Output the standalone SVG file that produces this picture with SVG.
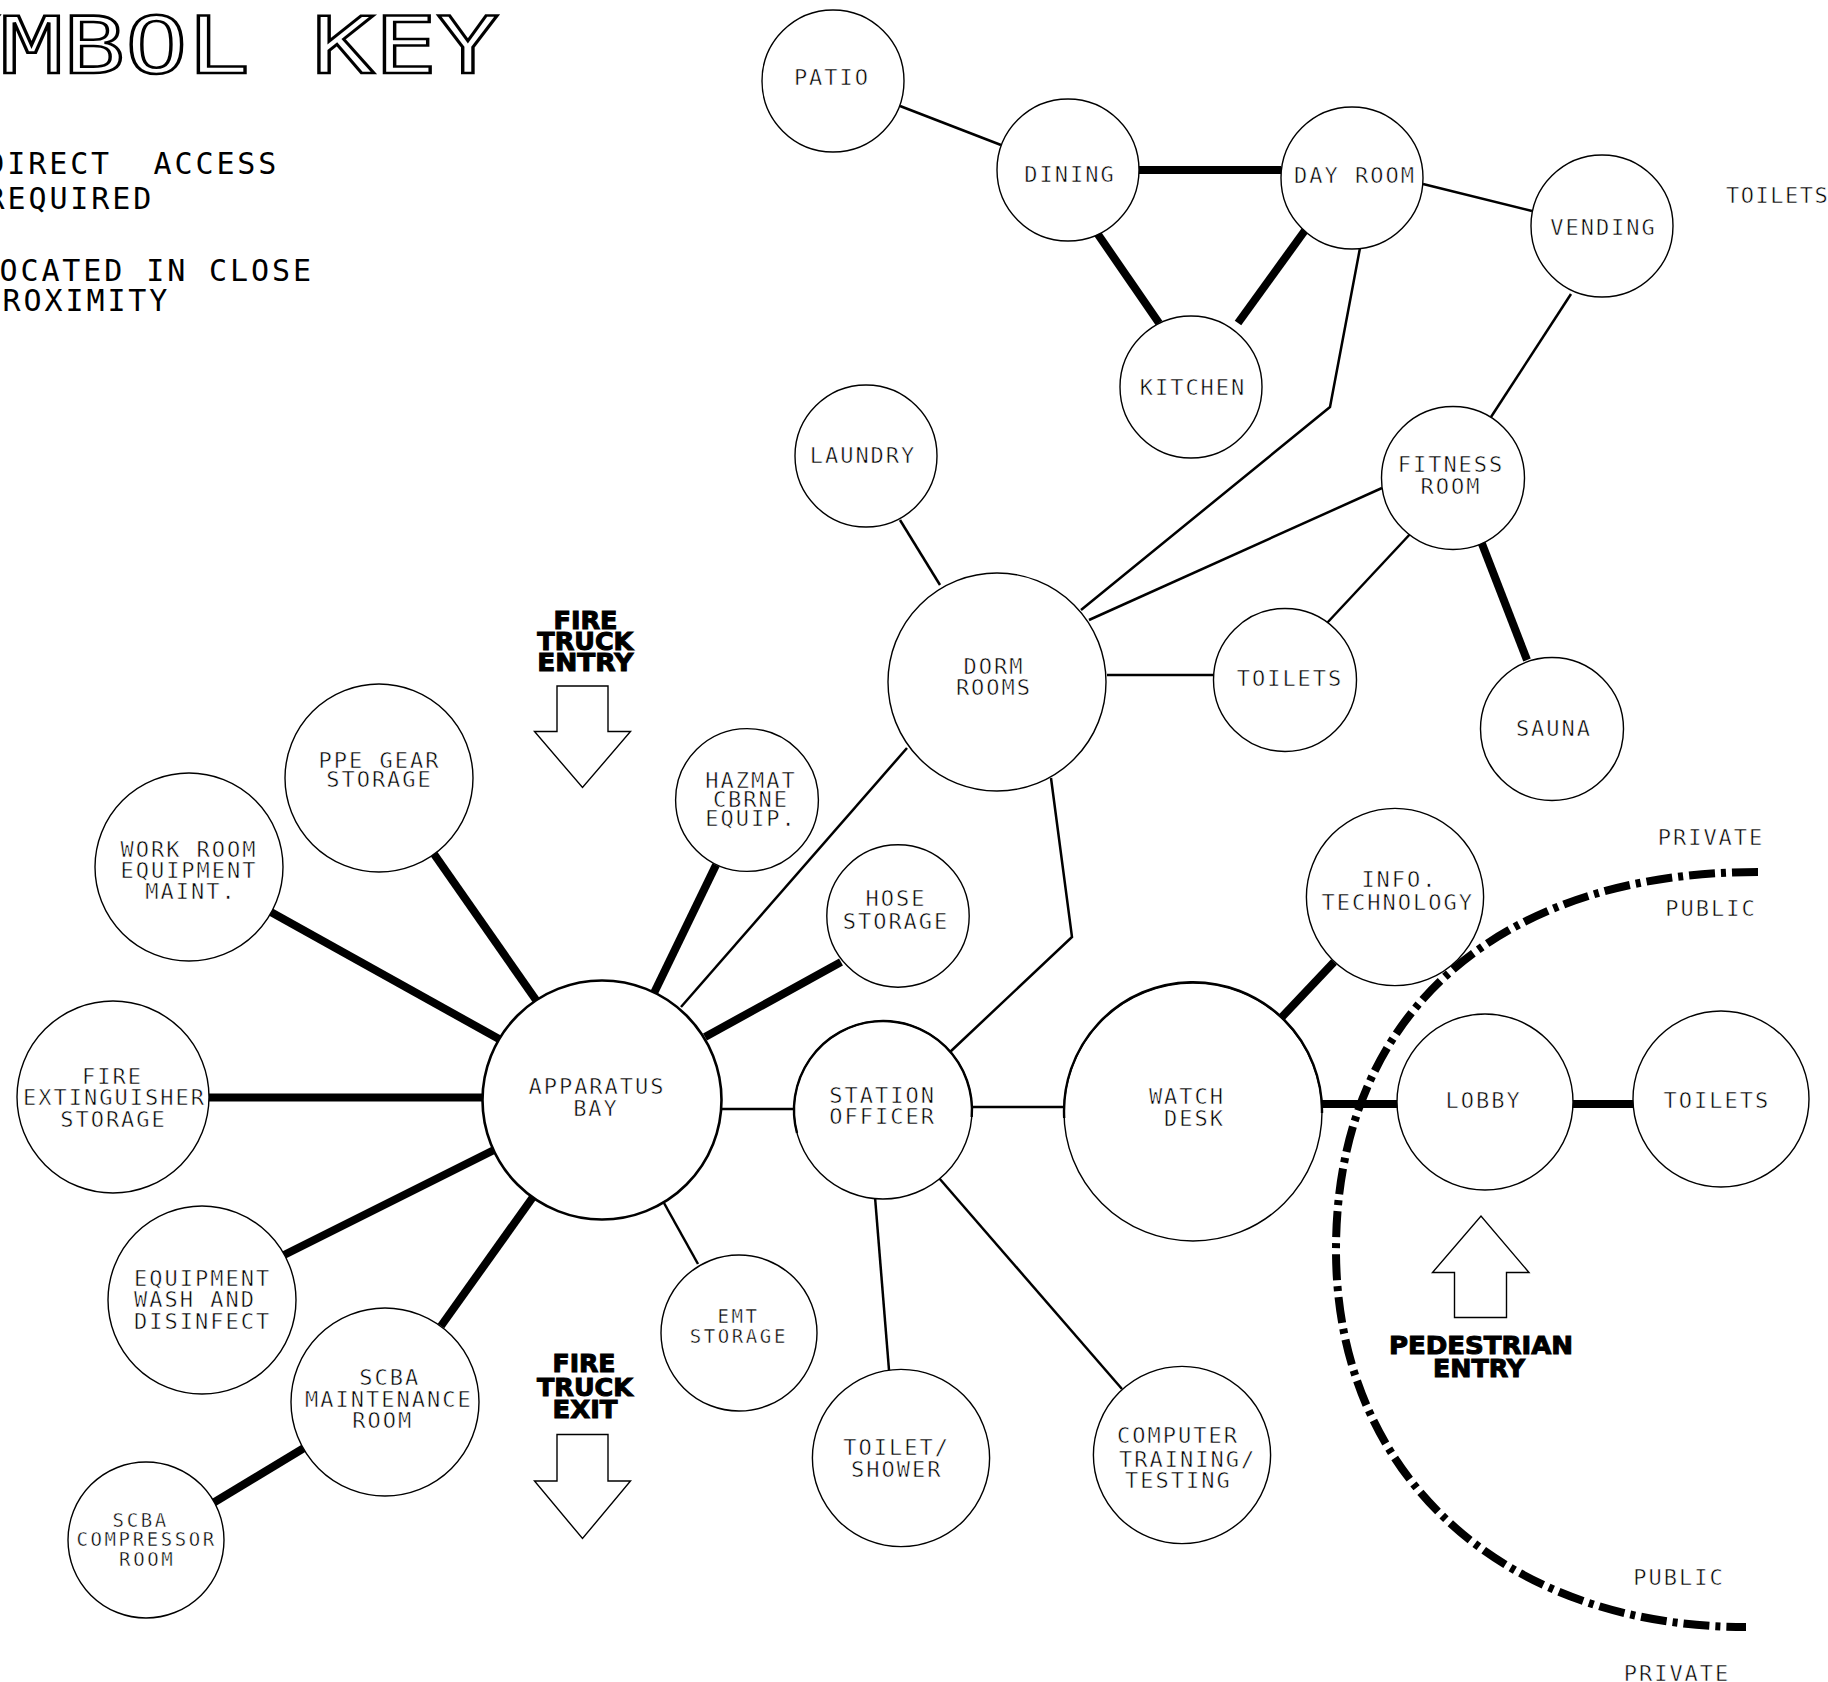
<svg xmlns="http://www.w3.org/2000/svg" width="1828" height="1682" viewBox="0 0 1828 1682">
<style>
  .bg { fill: #ffffff; }
  .node { fill: #ffffff; stroke: #000; stroke-width: 1.4; }
  .node-heavy { fill: #ffffff; stroke: #000; stroke-width: 2.6; }
  .rim { fill: none; stroke: #000; stroke-width: 2.4; }
  .lb { font-family: "DejaVu Sans Mono", "Liberation Mono", monospace; font-size: 22px; letter-spacing: 2px; text-anchor: middle; fill: #000; stroke: #fff; stroke-width: 0.55; }
  .sm { font-size: 19px; letter-spacing: 2.6px; stroke-width: 0.45; }
  .st { text-anchor: start; }
  .key { font-family: "DejaVu Sans Mono", "Liberation Mono", monospace; font-size: 30px; letter-spacing: 2.9px; fill: #000; }
  .title { font-family: "DejaVu Sans Mono", "Liberation Mono", monospace; font-size: 78px; fill: #fff; stroke: #000; stroke-width: 2.6; }
  .bold { font-family: "DejaVu Sans", "Liberation Sans", sans-serif; font-weight: bold; font-size: 24px; text-anchor: middle; fill: #000; stroke: #000; stroke-width: 1; }
  .direct { stroke: #000; stroke-width: 8; fill: none; stroke-linecap: butt; }
  .close { stroke: #000; stroke-width: 2.5; fill: none; stroke-linecap: butt; stroke-linejoin: miter; }
  .arrow { fill: #fff; stroke: #000; stroke-width: 1.4; stroke-linejoin: miter; }
  .boundary { fill: none; stroke: #000; stroke-width: 8; stroke-dasharray: 26 6 5 6; }
</style>
<rect class="bg" x="0" y="0" width="1828" height="1682"/>

<g id="symbol-key">
  <text class="title" x="-124" y="73" textLength="623" lengthAdjust="spacingAndGlyphs">SYMBOL KEY</text>
  <text class="key" x="-13.7" y="174">DIRECT</text>
  <text class="key" x="153.5" y="174">ACCESS</text>
  <text class="key" x="-13.5" y="208.5">REQUIRED</text>
  <text class="key" x="-21.5" y="280.5">LOCATED IN CLOSE</text>
  <text class="key" x="-18.4" y="310.5">PROXIMITY</text>
</g>

<g id="connectors">
  <!-- direct access required -->
  <line class="direct" x1="1139" y1="170" x2="1281" y2="170"/>
  <line class="direct" x1="1097" y1="233" x2="1159" y2="323"/>
  <line class="direct" x1="1306" y1="229" x2="1238" y2="323"/>
  <line class="direct" x1="1480.5" y1="540" x2="1527" y2="660"/>
  <line class="direct" x1="434" y1="854" x2="536" y2="1000"/>
  <line class="direct" x1="269" y1="911" x2="499" y2="1039"/>
  <line class="direct" x1="209" y1="1097.5" x2="484" y2="1097.5"/>
  <line class="direct" x1="716" y1="865" x2="654" y2="993"/>
  <line class="direct" x1="841" y1="962" x2="705" y2="1037"/>
  <line class="direct" x1="284" y1="1255" x2="494" y2="1150"/>
  <line class="direct" x1="441" y1="1326" x2="533" y2="1197"/>
  <line class="direct" x1="213" y1="1503" x2="304" y2="1448"/>
  <line class="direct" x1="1281" y1="1018" x2="1334" y2="962"/>
  <line class="direct" x1="1322" y1="1104" x2="1399" y2="1104"/>
  <line class="direct" x1="1571" y1="1104" x2="1633" y2="1104"/>
  <!-- located in close proximity -->
  <line class="close" x1="900" y1="106" x2="1001" y2="145"/>
  <line class="close" x1="1423" y1="184" x2="1532" y2="211"/>
  <line class="close" x1="1571" y1="294" x2="1491" y2="417"/>
  <polyline class="close" points="1360,248 1330,407 1081,610"/>
  <line class="close" x1="1382" y1="488" x2="1089" y2="620"/>
  <line class="close" x1="1412" y1="532" x2="1327" y2="623"/>
  <line class="close" x1="1107" y1="675" x2="1213" y2="675"/>
  <line class="close" x1="900" y1="520" x2="940" y2="585"/>
  <line class="close" x1="907" y1="748" x2="681" y2="1007"/>
  <polyline class="close" points="1051,778 1072,937 950,1052"/>
  <line class="close" x1="722" y1="1109" x2="794" y2="1109"/>
  <line class="close" x1="664" y1="1203" x2="698" y2="1264"/>
  <line class="close" x1="971" y1="1107" x2="1064" y2="1107"/>
  <line class="close" x1="875" y1="1197" x2="889" y2="1370"/>
  <line class="close" x1="939" y1="1178" x2="1122" y2="1389"/>
</g>

<g id="public-private-boundary">
  <path class="boundary" d="M1758,872 C1496,872 1336,1016 1336,1250 C1336,1476 1504,1627 1746,1627"/>
  <text class="lb" x="1711" y="845">PRIVATE</text>
  <text class="lb" x="1711" y="916">PUBLIC</text>
  <text class="lb" x="1679" y="1584.5">PUBLIC</text>
  <text class="lb" x="1677" y="1681">PRIVATE</text>
</g>

<g id="entries">
  <polygon class="arrow" points="557,686 608,686 608,731.5 630.5,731.5 582.5,787.5 534.5,731.5 557,731.5"/>
  <text class="bold" x="585.5" y="628.5" textLength="64" lengthAdjust="spacingAndGlyphs">FIRE</text>
  <text class="bold" x="585.3" y="650" textLength="96" lengthAdjust="spacingAndGlyphs">TRUCK</text>
  <text class="bold" x="585.3" y="671" textLength="96" lengthAdjust="spacingAndGlyphs">ENTRY</text>
  <polygon class="arrow" points="557,1434.5 608,1434.5 608,1481 630.5,1481 582.5,1538.5 534.5,1481 557,1481"/>
  <text class="bold" x="584" y="1372" textLength="63" lengthAdjust="spacingAndGlyphs">FIRE</text>
  <text class="bold" x="585" y="1396" textLength="96" lengthAdjust="spacingAndGlyphs">TRUCK</text>
  <text class="bold" x="585" y="1418" textLength="65" lengthAdjust="spacingAndGlyphs">EXIT</text>
  <polygon class="arrow" points="1454.5,1317.5 1506.5,1317.5 1506.5,1272.5 1529,1272.5 1481,1216 1432.5,1272.5 1454.5,1272.5"/>
  <text class="bold" x="1481" y="1354" textLength="184" lengthAdjust="spacingAndGlyphs">PEDESTRIAN</text>
  <text class="bold" x="1479" y="1376.5" textLength="92" lengthAdjust="spacingAndGlyphs">ENTRY</text>
</g>

<g id="node-patio"><circle class="node" cx="833" cy="81" r="71"/><text class="lb" x="832" y="85">PATIO</text></g>
<g id="node-dining"><circle class="node" cx="1068" cy="170" r="71"/><text class="lb" x="1070" y="181.5">DINING</text></g>
<g id="node-day-room"><circle class="node" cx="1352" cy="178" r="71"/><text class="lb" x="1355" y="182.5">DAY ROOM</text></g>
<g id="node-vending"><circle class="node" cx="1602" cy="226" r="71"/><text class="lb" x="1603.5" y="235">VENDING</text></g>
<g id="node-kitchen"><circle class="node" cx="1191" cy="387" r="71"/><text class="lb" x="1193" y="395">KITCHEN</text></g>
<g id="node-toilets-offpage"><text class="lb st" x="1726" y="203" style="letter-spacing:1.5px">TOILETS</text></g>
<g id="node-laundry"><circle class="node" cx="866" cy="456" r="71"/><text class="lb" x="863" y="462.5">LAUNDRY</text></g>
<g id="node-fitness-room"><circle class="node" cx="1453" cy="478" r="71.5"/><text class="lb" x="1451" y="471.5">FITNESS</text><text class="lb" x="1451" y="493.5">ROOM</text></g>
<g id="node-dorm-rooms"><circle class="node" cx="997" cy="682" r="109"/><text class="lb" x="994" y="673.5">DORM</text><text class="lb" x="994" y="695">ROOMS</text></g>
<g id="node-toilets-dorm"><circle class="node" cx="1285" cy="680" r="71.5"/><text class="lb" x="1290" y="686">TOILETS</text></g>
<g id="node-sauna"><circle class="node" cx="1552" cy="729" r="71.5"/><text class="lb" x="1554" y="736">SAUNA</text></g>
<g id="node-ppe-gear-storage"><circle class="node" cx="379" cy="778" r="94"/><text class="lb" x="379.5" y="768">PPE GEAR</text><text class="lb" x="379.5" y="786.5">STORAGE</text></g>
<g id="node-hazmat"><circle class="node" cx="747" cy="800" r="71.4"/><text class="lb" x="751" y="788">HAZMAT</text><text class="lb" x="751" y="807">CBRNE</text><text class="lb" x="751" y="825.5">EQUIP.</text></g>
<g id="node-hose-storage"><circle class="node" cx="898" cy="916" r="71.2"/><text class="lb" x="896" y="906">HOSE</text><text class="lb" x="896" y="928.5">STORAGE</text></g>
<g id="node-work-room"><circle class="node" cx="189" cy="867" r="94"/><text class="lb" x="189" y="856.5">WORK ROOM</text><text class="lb" x="189" y="877.5">EQUIPMENT</text><text class="lb" x="191" y="899">MAINT.</text></g>
<g id="node-info-technology"><circle class="node" cx="1395" cy="897" r="88.6"/><text class="lb" x="1399.5" y="887">INFO.</text><text class="lb" x="1397.8" y="909.5">TECHNOLOGY</text></g>
<g id="node-apparatus-bay"><circle class="node-heavy" cx="602" cy="1100" r="119.5"/><text class="lb" x="597" y="1094">APPARATUS</text><text class="lb" x="596" y="1116">BAY</text></g>
<g id="node-fire-extinguisher"><circle class="node" cx="113" cy="1097" r="96"/><text class="lb" x="112.5" y="1084">FIRE</text><text class="lb" x="114.5" y="1105">EXTINGUISHER</text><text class="lb" x="113.5" y="1127">STORAGE</text></g>
<g id="node-station-officer"><circle class="node" cx="883" cy="1110" r="89"/><path class="rim" d="M797,1133 A89,89 0 1 1 971.7,1117"/><text class="lb" x="882.7" y="1102.5">STATION</text><text class="lb" x="882.7" y="1124">OFFICER</text></g>
<g id="node-watch-desk"><circle class="node" cx="1193" cy="1112" r="129"/><path class="rim" d="M1064.2,1118 A129,129 0 1 1 1322,1113"/><text class="lb" x="1187" y="1103.5">WATCH</text><text class="lb" x="1194.5" y="1126">DESK</text></g>
<g id="node-lobby"><circle class="node" cx="1485" cy="1102" r="88"/><text class="lb" x="1483.7" y="1108">LOBBY</text></g>
<g id="node-toilets-lobby"><circle class="node" cx="1721" cy="1099" r="88"/><text class="lb" x="1716.8" y="1108">TOILETS</text></g>
<g id="node-equipment-wash"><circle class="node" cx="202" cy="1300" r="94"/><text class="lb st" x="134" y="1285.5">EQUIPMENT</text><text class="lb st" x="134" y="1307">WASH AND</text><text class="lb st" x="134" y="1329">DISINFECT</text></g>
<g id="node-scba-maintenance"><circle class="node" cx="385" cy="1402" r="94"/><text class="lb" x="389.8" y="1385">SCBA</text><text class="lb" x="388.8" y="1407">MAINTENANCE</text><text class="lb" x="382.7" y="1428">ROOM</text></g>
<g id="node-emt-storage"><circle class="node" cx="739" cy="1333" r="78"/><text class="lb sm" x="738.5" y="1323">EMT</text><text class="lb sm" x="738.8" y="1342.7">STORAGE</text></g>
<g id="node-scba-compressor"><circle class="node" cx="146" cy="1540" r="78"/><text class="lb sm" x="140.7" y="1526.7">SCBA</text><text class="lb sm" x="146.7" y="1546.3">COMPRESSOR</text><text class="lb sm" x="147.2" y="1565.7">ROOM</text></g>
<g id="node-toilet-shower"><circle class="node" cx="901" cy="1458" r="88.6"/><text class="lb" x="896.7" y="1455">TOILET/</text><text class="lb" x="896.7" y="1477">SHOWER</text></g>
<g id="node-computer-training"><circle class="node" cx="1182" cy="1455" r="88.6"/><text class="lb st" x="1117" y="1443.3">COMPUTER</text><text class="lb st" x="1119" y="1466.7">TRAINING/</text><text class="lb st" x="1125" y="1488.3">TESTING</text></g>
</svg>
